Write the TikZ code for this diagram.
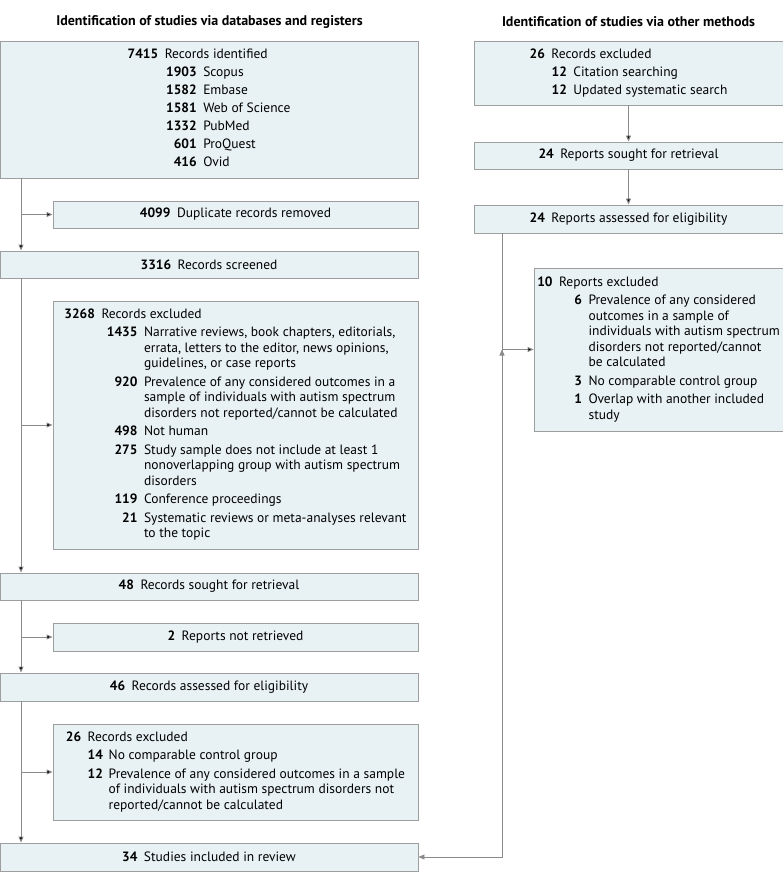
\documentclass[tikz,border=0pt]{standalone}
\usepackage{fontspec}
\setmainfont{PT Sans}
\usepackage{array}
\usetikzlibrary{arrows.meta, positioning}
\definecolor{boxfill}{RGB}{232,242,244}
\definecolor{boxline}{RGB}{158,158,158}
\definecolor{flowline}{RGB}{138,138,138}
\tikzstyle{every picture} = [x=1pt, y=-1pt]
\tikzstyle{flowbox} = [draw=boxline, fill=boxfill, line width=0.9pt, inner sep=0pt, font=\fontsize{13.5}{15.5}\selectfont]
\tikzstyle{heading} = [font=\fontsize{14}{16}\selectfont\bfseries]
\tikzstyle{flowarrow} = [draw=flowline, line width=0.9pt, -{Triangle[length=6pt,width=5pt]}]
\newcommand{\flowcount}[2]{\textbf{#1}\hspace{6.5pt}#2}
\newenvironment{flowlist}[1]{\begin{tabular}{@{}r@{\hspace{6.5pt}}>{\raggedleft\arraybackslash}p{#1}@{\hspace{6.5pt}}l@{}}}{\end{tabular}}

\begin{document}
\begin{tikzpicture}
            \useasboundingbox (0,0) rectangle (783,885);
            \node (left head) at(209.5,22) [heading] {Identification of studies via databases and registers};
            \node (right head) at(628.5,22) [heading] {Identification of studies via other methods};

            \node (ident) at(209,109.5) [flowbox, minimum width=418pt, minimum height=137pt] {\begin{flowlist}{32pt}
                \textbf{7415} & \multicolumn{2}{@{}l@{}}{Records identified}\\[2.5pt]
                & \textbf{1903} & Scopus\\[2.5pt]
                & \textbf{1582} & Embase\\[2.5pt]
                & \textbf{1581} & Web of Science\\[2.5pt]
                & \textbf{1332} & PubMed\\[2.5pt]
                & \textbf{601} & ProQuest\\[2.5pt]
                & \textbf{416} & Ovid
            \end{flowlist}};
            \node (duplicates) at(235.5,214.5) [flowbox, minimum width=365pt, minimum height=27pt] {\flowcount{4099}{Duplicate records removed}};
            \node (screened) at(209,264.5) [flowbox, minimum width=418pt, minimum height=27pt] {\flowcount{3316}{Records screened}};
            \node (screen excl) at(235.5,425) [flowbox, minimum width=365pt, minimum height=248pt] {\begin{flowlist}{36pt}
                \textbf{3268} & \multicolumn{2}{@{}l@{}}{Records excluded}\\[3pt]
                & \textbf{1435} & Narrative reviews, book chapters, editorials,\\
                & & errata, letters to the editor, news opinions,\\
                & & guidelines, or case reports\\[3pt]
                & \textbf{920} & Prevalence of any considered outcomes in a\\
                & & sample of individuals with autism spectrum\\
                & & disorders not reported/cannot be calculated\\[3pt]
                & \textbf{498} & Not human\\[3pt]
                & \textbf{275} & Study sample does not include at least 1\\
                & & nonoverlapping group with autism spectrum\\
                & & disorders\\[3pt]
                & \textbf{119} & Conference proceedings\\[3pt]
                & \textbf{21} & Systematic reviews or meta-analyses relevant\\
                & & to the topic
            \end{flowlist}};
            \node (sought) at(209,586.5) [flowbox, minimum width=418pt, minimum height=27pt] {\flowcount{48}{Records sought for retrieval}};
            \node (not retrieved) at(235.5,637) [flowbox, minimum width=365pt, minimum height=28pt] {\flowcount{2}{Reports not retrieved}};
            \node (eligible) at(209,687) [flowbox, minimum width=418pt, minimum height=28pt] {\flowcount{46}{Records assessed for eligibility}};
            \node (full excl) at(235.5,772) [flowbox, minimum width=365pt, minimum height=96pt] {\begin{flowlist}{14.5pt}
                \textbf{26} & \multicolumn{2}{@{}l@{}}{Records excluded}\\[3pt]
                & \textbf{14} & No comparable control group\\[3pt]
                & \textbf{12} & Prevalence of any considered outcomes in a sample\\
                & & of individuals with autism spectrum disorders not\\
                & & reported/cannot be calculated
            \end{flowlist}};
            \node (included) at(209,857) [flowbox, minimum width=418pt, minimum height=28pt] {\flowcount{34}{Studies included in review}};

            \node (other) at(628.5,73) [flowbox, minimum width=309pt, minimum height=64pt] {\begin{flowlist}{15.5pt}
                \textbf{26} & \multicolumn{2}{@{}l@{}}{Records excluded}\\[2.5pt]
                & \textbf{12} & Citation searching\\[2.5pt]
                & \textbf{12} & Updated systematic search
            \end{flowlist}};
            \node (other sought) at(628.5,155.5) [flowbox, minimum width=309pt, minimum height=27pt] {\flowcount{24}{Reports sought for retrieval}};
            \node (other assessed) at(628.5,219) [flowbox, minimum width=309pt, minimum height=28pt] {\flowcount{24}{Reports assessed for eligibility}};
            \node (other excl) at(658.5,349.5) [flowbox, minimum width=249pt, minimum height=163pt] {\begin{flowlist}{23pt}
                \textbf{10} & \multicolumn{2}{@{}l@{}}{Reports excluded}\\[3pt]
                & \textbf{6} & Prevalence of any considered\\
                & & outcomes in a sample of\\
                & & individuals with autism spectrum\\
                & & disorders not reported/cannot\\
                & & be calculated\\[3pt]
                & \textbf{3} & No comparable control group\\[3pt]
                & \textbf{1} & Overlap with another included\\
                & & study
            \end{flowlist}};

            \coordinate (left trunk) at (21,0);
            \coordinate (right trunk) at (502,0);

            \path[flowarrow] (ident.south -| left trunk) edge (screened.north -| left trunk)
                    (duplicates.west -| left trunk) edge (duplicates.west)
                    (screened.south -| left trunk) edge (sought.north -| left trunk)
                    (screen excl.west -| left trunk) edge (screen excl.west)
                    (sought.south -| left trunk) edge (eligible.north -| left trunk)
                    (not retrieved.west -| left trunk) edge (not retrieved.west)
                    (eligible.south -| left trunk) edge (included.north -| left trunk)
                    (full excl.west -| left trunk) edge (full excl.west)
                    (other) edge (other sought)
                    (other sought) edge (other assessed)
                    (other excl.west -| right trunk) edge (other excl.west);
            \draw[flowarrow] (other assessed.south -| right trunk) |- (included.east);
\end{tikzpicture}
\end{document}
